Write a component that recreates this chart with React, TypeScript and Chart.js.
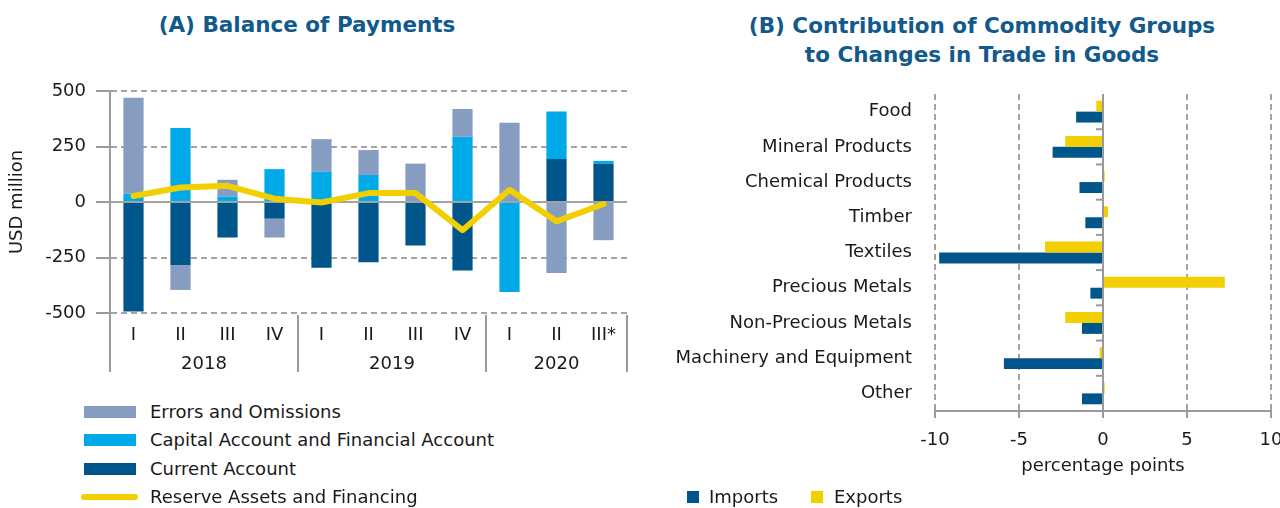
import React, { useEffect, useRef } from "react";
import { Chart, registerables } from "chart.js";

Chart.register(...registerables);

// ---------- Panel A data ----------
const quarterLabels = ["I", "II", "III", "IV", "I", "II", "III", "IV", "I", "II", "III*"];
const yearLabels = ["2018", "2019", "2020"];
const quartersPerYear = [4, 4, 3];
const currentAccount = [-493, -284, -160, -75, -296, -271, -196, -308, 0, 194, 172];
const capitalFinancialAccount = [37, 333, 25, 148, 136, 122, 0, 294, -405, 214, 13];
const errorsOmissions = [433, -112, 75, -85, 147, 112, 173, 125, 357, -320, -172];
const reserveAssets = [27, 65, 73, 15, -2, 40, 40, -127, 55, -87, -9];
const balanceTicks = [-500, -250, 0, 250, 500];

// ---------- Panel B data ----------
const commodityGroups = [
  "Food",
  "Mineral Products",
  "Chemical Products",
  "Timber",
  "Textiles",
  "Precious Metals",
  "Non-Precious Metals",
  "Machinery and Equipment",
  "Other",
];
const importsContribution = [-1.6, -3.0, -1.4, -1.05, -9.75, -0.75, -1.25, -5.9, -1.25];
const exportsContribution = [-0.4, -2.25, 0.1, 0.3, -3.45, 7.25, -2.25, -0.2, 0.1];
const tradeTicks = [-10, -5, 0, 5, 10];

const FONT = "'DejaVu Sans', 'Liberation Sans', sans-serif";
const TEXT = "#1a1a1a";
const GRID = "#a3a3a3";
const AXIS = "#9a9a9a";
const C_ERR = "#869CC1";
const C_CAP = "#00A9E8";
const C_CUR = "#00558B";
const C_YEL = "#F2CF00";
const TITLE = "#12598C";

Chart.defaults.font.family = FONT;
Chart.defaults.font.size = 18;
Chart.defaults.color = TEXT;

const yearGroupsPlugin = {
  id: "yearGroups",
  afterDraw(chart: any) {
    const { ctx, chartArea, scales } = chart;
    const x = scales.x;
    const step = x.getPixelForValue(1) - x.getPixelForValue(0);
    const top = chartArea.bottom + 2;
    const bottom = chartArea.bottom + 59;
    ctx.save();
    ctx.strokeStyle = AXIS;
    ctx.lineWidth = 2;
    ctx.beginPath();
    ctx.moveTo(chartArea.left, chartArea.bottom);
    ctx.lineTo(chartArea.left, bottom);
    ctx.stroke();
    ctx.font = `18px ${FONT}`;
    ctx.fillStyle = TEXT;
    ctx.textAlign = "center";
    ctx.textBaseline = "middle";
    let start = 0;
    yearLabels.forEach((yr, g) => {
      const n = quartersPerYear[g];
      const l = x.getPixelForValue(start) - step / 2;
      const r = x.getPixelForValue(start + n - 1) + step / 2;
      ctx.beginPath();
      ctx.moveTo(r, top);
      ctx.lineTo(r, bottom);
      ctx.stroke();
      ctx.fillText(yr, (l + r) / 2, chartArea.bottom + 51);
      start += n;
    });
    ctx.restore();
  },
};

const zeroTicksPlugin = {
  id: "zeroTicks",
  afterDatasetsDraw(chart: any) {
    const { ctx, chartArea, scales } = chart;
    const x0 = scales.x.getPixelForValue(0);
    const y = scales.y;
    ctx.save();
    ctx.strokeStyle = AXIS;
    ctx.lineWidth = 2;
    ctx.beginPath();
    ctx.moveTo(x0, chartArea.top);
    ctx.lineTo(x0, chartArea.bottom);
    ctx.stroke();
    for (let i = 0; i < commodityGroups.length - 1; i++) {
      const yy = (y.getPixelForValue(i) + y.getPixelForValue(i + 1)) / 2;
      ctx.beginPath();
      ctx.moveTo(x0 - 7, yy);
      ctx.lineTo(x0, yy);
      ctx.stroke();
    }
    ctx.restore();
  },
};

function BalanceChart() {
  const ref = useRef<HTMLCanvasElement>(null);
  useEffect(() => {
    const chart = new Chart(ref.current as HTMLCanvasElement, {
      type: "bar",
      data: {
        labels: quarterLabels,
        datasets: [
          {
            type: "line",
            label: "Reserve Assets and Financing",
            data: reserveAssets,
            borderColor: C_YEL,
            borderWidth: 6,
            pointRadius: 0,
            tension: 0,
            borderCapStyle: "round",
            borderJoinStyle: "round",
            stack: "reserve",
            order: 0,
          } as any,
          { label: "Current Account", data: currentAccount, backgroundColor: C_CUR, order: 1 },
          { label: "Capital Account and Financial Account", data: capitalFinancialAccount, backgroundColor: C_CAP, order: 1 },
          { label: "Errors and Omissions", data: errorsOmissions, backgroundColor: C_ERR, order: 1 },
        ],
      },
      options: {
        animation: false,
        responsive: true,
        maintainAspectRatio: false,
        layout: { padding: { top: 91, right: 13, left: 0, bottom: 0 } },
        datasets: { bar: { barPercentage: 0.43, categoryPercentage: 1 } },
        plugins: { legend: { display: false }, tooltip: { enabled: false }, title: { display: false } },
        scales: {
          x: {
            stacked: true,
            grid: { display: false, drawTicks: false },
            border: { display: false },
            ticks: { padding: 12, font: { size: 18 }, color: TEXT, autoSkip: false, maxRotation: 0 },
            afterFit: (s: any) => { s.height = 87; },
          },
          y: {
            stacked: true,
            min: -500,
            max: 500,
            afterBuildTicks: (s: any) => { s.ticks = balanceTicks.map((v) => ({ value: v })); },
            ticks: { padding: 10, font: { size: 18 }, color: TEXT },
            grid: { color: GRID, lineWidth: 2, tickLength: 14, tickColor: AXIS, tickWidth: 2 },
            border: {
              display: true,
              color: AXIS,
              width: 2,
              dash: (c: any) => (c.tick && c.tick.value === 0 ? [] : [6, 4]),
            } as any,
            title: { display: true, text: "USD million", font: { size: 18 }, color: TEXT, padding: { top: 7, bottom: 0 } },
            afterFit: (s: any) => { s.width = 110; },
          },
        },
      },
      plugins: [yearGroupsPlugin],
    } as any);
    return () => chart.destroy();
  }, []);
  return (
    <div style={{ position: "absolute", left: 0, top: 0, width: 640, height: 400 }}>
      <canvas ref={ref} />
    </div>
  );
}

function TradeChart() {
  const ref = useRef<HTMLCanvasElement>(null);
  useEffect(() => {
    const chart = new Chart(ref.current as HTMLCanvasElement, {
      type: "bar",
      data: {
        labels: commodityGroups,
        datasets: [
          { label: "Exports", data: exportsContribution, backgroundColor: C_YEL },
          { label: "Imports", data: importsContribution, backgroundColor: C_CUR },
        ],
      },
      options: {
        animation: false,
        responsive: true,
        maintainAspectRatio: false,
        indexAxis: "y",
        layout: { padding: { top: 94, right: 29, left: 0, bottom: 0 } },
        datasets: { bar: { barPercentage: 1, categoryPercentage: 0.62 } },
        plugins: { legend: { display: false }, tooltip: { enabled: false } },
        scales: {
          x: {
            min: -10,
            max: 10,
            afterBuildTicks: (s: any) => { s.ticks = tradeTicks.map((v) => ({ value: v })); },
            ticks: { padding: 12, font: { size: 18 }, color: TEXT },
            grid: { color: GRID, lineWidth: 2, tickLength: 7, tickColor: AXIS, tickWidth: 2 },
            border: {
              display: true,
              color: AXIS,
              width: 2,
              dash: (c: any) => (c.tick && c.tick.value === 0 ? [] : [6, 4]),
            } as any,
            title: { display: true, text: "percentage points", font: { size: 18 }, color: TEXT, padding: { top: 0, bottom: 31 } },
            afterFit: (s: any) => { s.height = 97; },
          },
          y: {
            grid: { display: false, drawTicks: false },
            border: { display: false },
            ticks: { padding: 23, font: { size: 18 }, color: TEXT, autoSkip: false },
            afterFit: (s: any) => { s.width = 295; },
          },
        },
      },
      plugins: [zeroTicksPlugin],
    } as any);
    return () => chart.destroy();
  }, []);
  return (
    <div style={{ position: "absolute", left: 640, top: 0, width: 660, height: 508 }}>
      <canvas ref={ref} />
    </div>
  );
}

const legendA = [
  { label: "Errors and Omissions", color: C_ERR, kind: "box" },
  { label: "Capital Account and Financial Account", color: C_CAP, kind: "box" },
  { label: "Current Account", color: C_CUR, kind: "box" },
  { label: "Reserve Assets and Financing", color: C_YEL, kind: "line" },
];
const legendACenters = [412, 440, 469, 497];

export default function App() {
  return (
    <div
      style={{
        position: "fixed",
        left: 0,
        top: 0,
        width: 1280,
        height: 508,
        background: "#fff",
        overflow: "hidden",
        fontFamily: FONT,
        color: TEXT,
      }}
    >
      <div
        style={{
          position: "absolute",
          left: 0,
          width: 614,
          top: 12,
          lineHeight: "26px",
          textAlign: "center",
          fontWeight: "bold",
          fontSize: 21.5,
          color: TITLE,
          whiteSpace: "nowrap",
        }}
      >
        (A) Balance of Payments
      </div>
      <div
        style={{
          position: "absolute",
          left: 682,
          width: 600,
          top: 10.5,
          lineHeight: "29px",
          textAlign: "center",
          fontWeight: "bold",
          fontSize: 21.5,
          color: TITLE,
          whiteSpace: "nowrap",
        }}
      >
        (B) Contribution of Commodity Groups
        <br />
        to Changes in Trade in Goods
      </div>
      <BalanceChart />
      <TradeChart />
      {legendA.map((item, i) => (
        <div
          key={item.label}
          style={{
            position: "absolute",
            left: 0,
            top: legendACenters[i] - 11,
            height: 22,
            width: 600,
          }}
        >
          {item.kind === "box" ? (
            <div style={{ position: "absolute", left: 84, top: 5, width: 52, height: 12, background: item.color }} />
          ) : (
            <div style={{ position: "absolute", left: 81, top: 8, width: 57, height: 6, borderRadius: 3, background: item.color }} />
          )}
          <div style={{ position: "absolute", left: 150, top: 0, lineHeight: "22px", fontSize: 18, whiteSpace: "nowrap" }}>
            {item.label}
          </div>
        </div>
      ))}
      <div style={{ position: "absolute", left: 687, top: 491, width: 12, height: 12, background: C_CUR }} />
      <div style={{ position: "absolute", left: 709, top: 486, lineHeight: "22px", fontSize: 18 }}>Imports</div>
      <div style={{ position: "absolute", left: 811, top: 491, width: 12, height: 12, background: C_YEL }} />
      <div style={{ position: "absolute", left: 834, top: 486, lineHeight: "22px", fontSize: 18 }}>Exports</div>
    </div>
  );
}
